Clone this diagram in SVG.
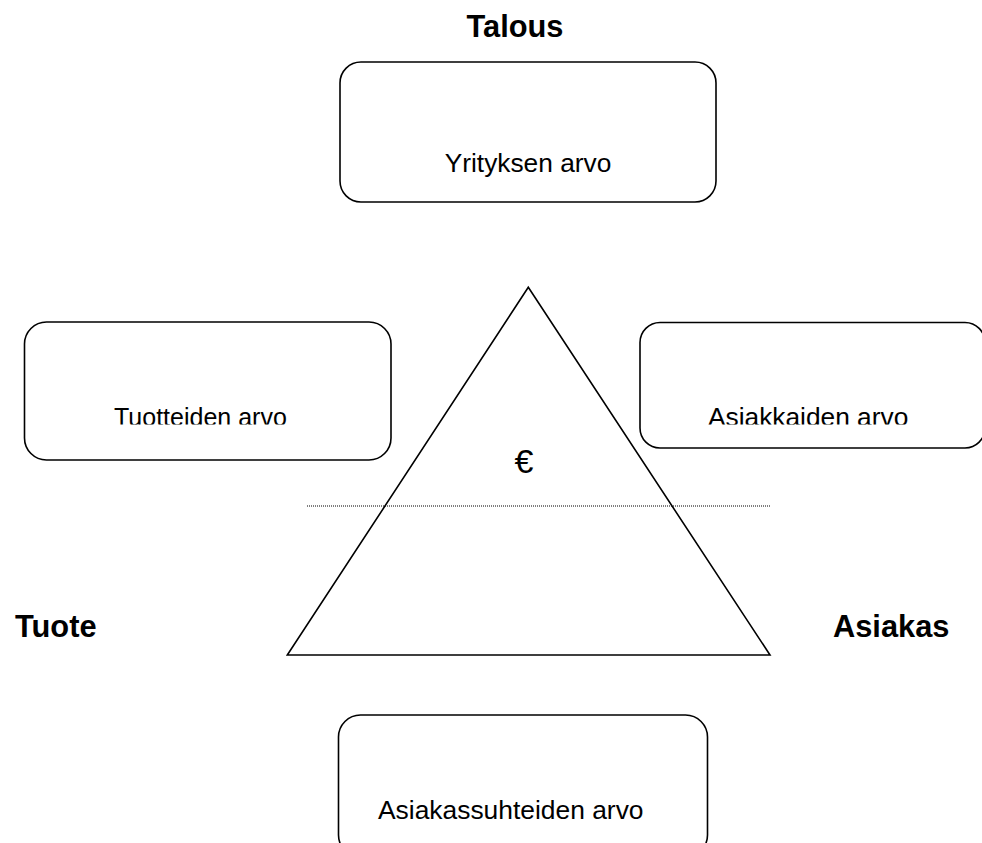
<svg xmlns="http://www.w3.org/2000/svg" width="982" height="843" viewBox="0 0 982 843">
<style>
.box{fill:#fff;stroke:#000;stroke-width:1.6}
.lbl{font-family:"Liberation Sans",Arial,sans-serif;font-size:26px;fill:#000}
.ttl{font-family:"Liberation Sans",Arial,sans-serif;font-size:30.8px;font-weight:bold;fill:#000}
</style>
<defs>
<clipPath id="cl"><rect x="0" y="0" width="982" height="424.5"/></clipPath>
</defs>
<rect width="982" height="843" fill="#fff"/>
<g id="talous"><text class="ttl" x="515" y="37" text-anchor="middle">Talous</text></g>
<g id="yritys"><rect class="box" x="340" y="62" width="376" height="140" rx="21"/><text class="lbl" x="528" y="172" text-anchor="middle" style="font-size:26.3px">Yrityksen arvo</text></g>
<g id="tuotteet"><rect class="box" x="24.5" y="322" width="366.5" height="138" rx="22"/><text class="lbl" x="114" y="426" clip-path="url(#cl)" style="font-size:25px">Tuotteiden arvo</text></g>
<g id="asiakkaat"><rect class="box" x="640" y="322.5" width="345" height="125.5" rx="20"/><text class="lbl" x="708" y="426" clip-path="url(#cl)" style="font-size:26.3px">Asiakkaiden arvo</text></g>
<g id="pyramidi"><polygon points="528.3,287.3 287.3,655 770,655" fill="none" stroke="#000" stroke-width="1.6"/>
<line x1="307" y1="506" x2="770" y2="506" stroke="#000" stroke-width="1" stroke-dasharray="1,1"/>
<text x="524" y="473" text-anchor="middle" style="font-family:'Liberation Sans',Arial,sans-serif;font-size:34px">€</text></g>
<g id="tuote"><text class="ttl" x="15" y="637">Tuote</text></g>
<g id="asiakas"><text class="ttl" x="833" y="637">Asiakas</text></g>
<g id="suhteet"><rect class="box" x="338.5" y="715" width="369" height="142" rx="22"/><text class="lbl" x="378" y="818.5" style="font-size:26.4px">Asiakassuhteiden arvo</text></g>
<g id="connectors"></g>
</svg>
